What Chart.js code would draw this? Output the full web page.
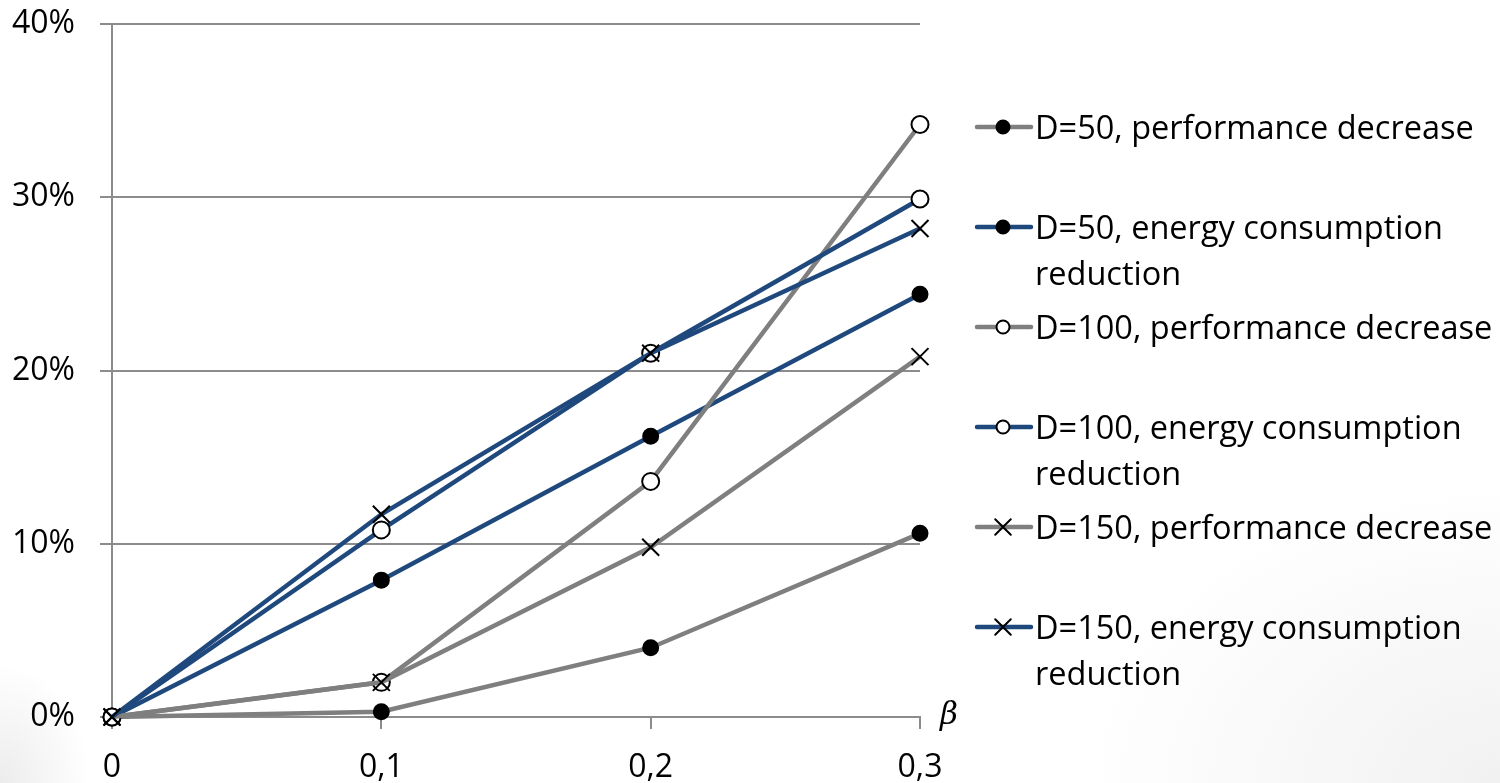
<!DOCTYPE html>
<html>
<head>
<meta charset="utf-8">
<script src="https://cdn.jsdelivr.net/npm/chart.js@4.4.1/dist/chart.umd.min.js"></script>
<style>
  body {
    margin: 0;
    width: 1500px;
    height: 783px;
    overflow: hidden;
    font-family: "Open Sans", sans-serif;
    background:
      radial-gradient(ellipse 90px 120px at 0% 100%, #ececec 0%, rgba(255,255,255,0) 100%),
      radial-gradient(ellipse 420px 300px at 100% 100%, #f1f1f1 0%, rgba(255,255,255,0) 100%),
      #fff;
  }
  #wrap { position: relative; width: 1500px; height: 783px; }
  #chart { position: absolute; left: 0; top: 0; }
  .item { position: absolute; left: 973px; display: flex; align-items: flex-start; }
  .item span { width: 480px; font-size: 32.5px; line-height: 46px; color: #000; white-space: normal; }
  #beta { position: absolute; left: 940px; top: 695px; font: italic 31px "DejaVu Serif", serif; color: #000; }
</style>
</head>
<body>
<div id="wrap">
  <canvas id="chart" width="1500" height="783"></canvas>
  <div id="legend"></div>
  <div id="beta">β</div>
</div>
<script>
// data (values in %)
const betaValues = [0, 0.1, 0.2, 0.3];
const yTicks = [0, 10, 20, 30, 40];
const d50Perf = [0, 0.3, 4.0, 10.6];
const d50Energy = [0, 7.9, 16.2, 24.4];
const d100Perf = [0, 2.0, 13.6, 34.2];
const d100Energy = [0, 10.8, 21.0, 29.9];
const d150Perf = [0, 2.0, 9.8, 20.8];
const d150Energy = [0, 11.7, 21.0, 28.2];
const seriesNames = [
  "D=50, performance decrease",
  "D=50, energy consumption reduction",
  "D=100, performance decrease",
  "D=100, energy consumption reduction",
  "D=150, performance decrease",
  "D=150, energy consumption reduction"
];

const GRAY = "#7f7f7f";
const BLUE = "#1f497d";
const GRID = "#8c8c8c";

const seriesValues = [d50Perf, d50Energy, d100Perf, d100Energy, d150Perf, d150Energy];
const lineColors = [GRAY, BLUE, GRAY, BLUE, GRAY, BLUE];
const markers = ["circle", "circle", "circle", "circle", "crossRot", "crossRot"];
const markerFill = ["#000", "#000", "#fff", "#fff", "#000", "#000"];
const markerSize = [7.5, 7.5, 8.5, 8.5, 12, 12];

const datasets = seriesValues.map(function (vals, i) {
  return {
    label: seriesNames[i],
    data: vals.map(function (v, j) { return { x: betaValues[j], y: v }; }),
    borderColor: lineColors[i],
    borderWidth: 4.5,
    pointStyle: markers[i],
    pointRadius: markerSize[i],
    pointHoverRadius: markerSize[i],
    pointBorderWidth: 2,
    pointBorderColor: "#000",
    pointBackgroundColor: markerFill[i],
    tension: 0,
    clip: false,
    order: seriesValues.length - i
  };
});

const tickFont = { family: "Open Sans", size: 32 };

new Chart(document.getElementById("chart"), {
  type: "line",
  data: { datasets: datasets },
  options: {
    responsive: false,
    animation: false,
    events: [],
    layout: { padding: { top: 24, right: 580, left: 0, bottom: 0 } },
    scales: {
      x: {
        type: "linear",
        min: 0,
        max: 0.3,
        afterBuildTicks: function (scale) {
          scale.ticks = betaValues.map(function (v) { return { value: v }; });
        },
        afterFit: function (scale) {
          scale.height = 66;
          scale.paddingLeft = 0;
          scale.paddingRight = 0;
        },
        ticks: {
          color: "#000",
          font: tickFont,
          padding: 20,
          maxRotation: 0,
          callback: function (v) { return v === 0 ? "0" : v.toFixed(1).replace(".", ","); }
        },
        grid: { color: GRID, lineWidth: 2, tickLength: 12, drawOnChartArea: false },
        border: { color: GRID, width: 2 }
      },
      y: {
        min: 0,
        max: 40,
        afterBuildTicks: function (scale) {
          scale.ticks = yTicks.map(function (v) { return { value: v }; });
        },
        afterFit: function (scale) {
          scale.width = 112;
          scale.paddingTop = 0;
          scale.paddingBottom = 0;
        },
        ticks: {
          color: "#000",
          font: tickFont,
          padding: 25,
          callback: function (v) { return v + "%"; }
        },
        grid: { color: GRID, lineWidth: 2, tickLength: 12 },
        border: { color: GRID, width: 2 }
      }
    },
    plugins: {
      legend: { display: false },
      tooltip: { enabled: false }
    }
  }
});

// legend on the right, with wrapped labels
const legend = document.getElementById("legend");
datasets.forEach(function (ds, i) {
  const item = document.createElement("div");
  item.className = "item";
  item.style.top = (104 + i * 100) + "px";
  const c = document.createElement("canvas");
  c.width = 62;
  c.height = 46;
  const ctx = c.getContext("2d");
  ctx.strokeStyle = ds.borderColor;
  ctx.lineWidth = 4.5;
  ctx.lineCap = "round";
  ctx.beginPath();
  ctx.moveTo(4, 23);
  ctx.lineTo(58, 23);
  ctx.stroke();
  ctx.strokeStyle = "#000";
  ctx.fillStyle = ds.pointBackgroundColor;
  ctx.lineWidth = 2;
  const r = ds.pointStyle === "crossRot" ? 11 : 6.5;
  Chart.helpers.drawPoint(ctx, { pointStyle: ds.pointStyle, radius: r, rotation: 0, borderWidth: 2 }, 30, 23);
  const span = document.createElement("span");
  span.textContent = ds.label;
  item.appendChild(c);
  item.appendChild(span);
  legend.appendChild(item);
});
</script>
</body>
</html>
